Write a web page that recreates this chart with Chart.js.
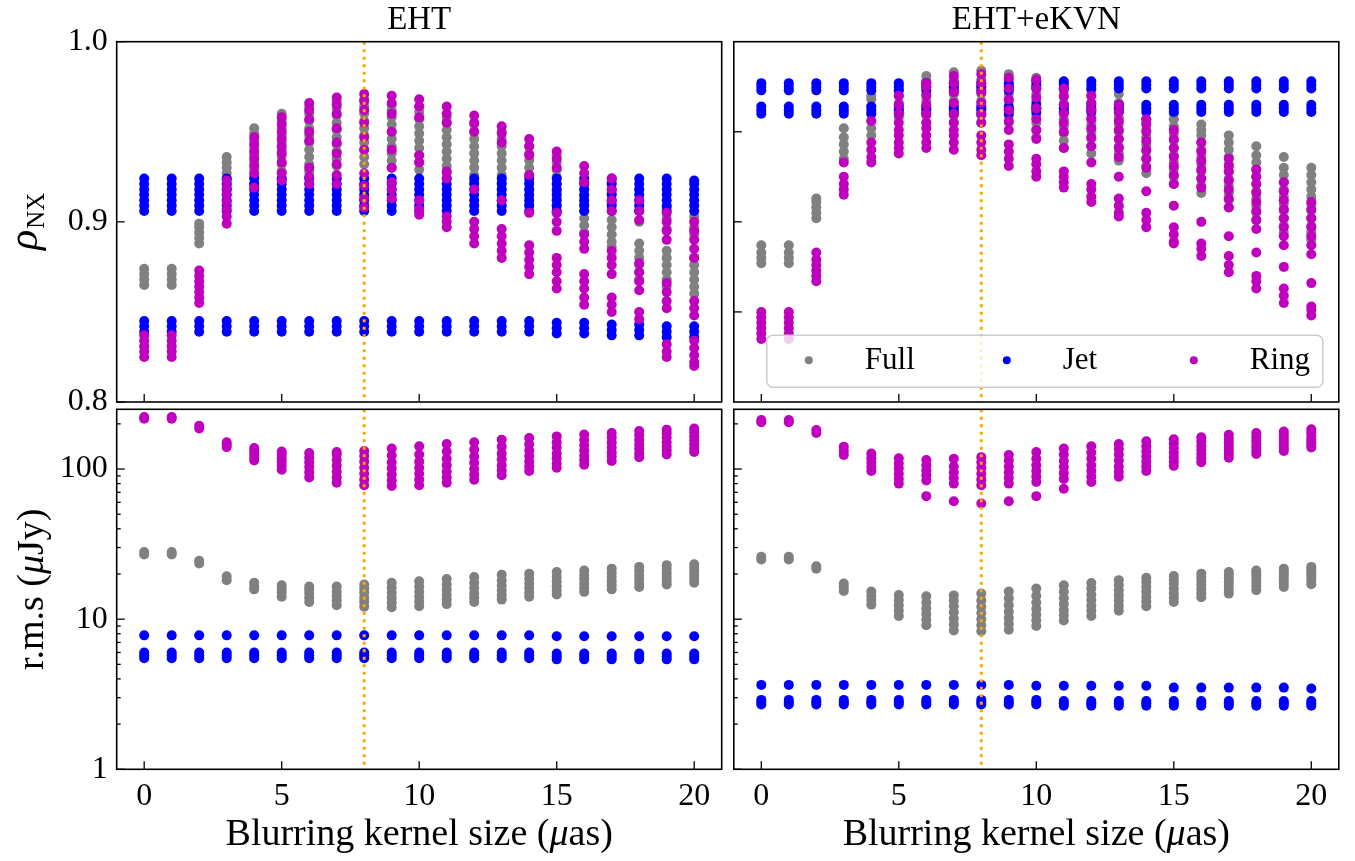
<!DOCTYPE html>
<html>
<head>
<meta charset="utf-8">
<script src="https://cdn.jsdelivr.net/npm/chart.js@4.4.1/dist/chart.umd.min.js"></script>
<style>
  body { margin: 0; background: #fff; }
  #quadro { position: relative; width: 1355px; height: 861px; }
  #quadro canvas { position: absolute; left: 0; top: 0; }
</style>
</head>
<body>
<div id="quadro">
  <canvas id="rhoEHT" width="1355" height="861"></canvas>
  <canvas id="rhoKVN" width="1355" height="861"></canvas>
  <canvas id="rmsEHT" width="1355" height="861"></canvas>
  <canvas id="rmsKVN" width="1355" height="861"></canvas>
</div>
<script>
// tamanho do kernel (uas)
const tamanhos = [0,1,2,3,4,5,6,7,8,9,10,11,12,13,14,15,16,17,18,19,20];

const ticksX = [0, 5, 10, 15, 20];
const ticksRho = [0.8, 0.9, 1.0];
const ticksRhoDir = [0.85, 0.9, 0.95];
const ticksRms = [1, 10, 100];
const ticksRmsMenores = [2,3,4,5,6,7,8,9,20,30,40,50,60,70,80,90,200];
const linhaVertical = 8;

// rho_NX - EHT
const fullEHT_rho = [
  [0.865,0.868,0.871,0.874],
  [0.865,0.868,0.871,0.874],
  [0.888,0.891,0.894,0.897,0.899],
  [0.918,0.921,0.924,0.927,0.930,0.933,0.936],
  [0.921,0.925,0.929,0.933,0.937,0.941,0.945,0.949,0.952],
  [0.924,0.928,0.932,0.936,0.940,0.944,0.948,0.952,0.956,0.960],
  [0.928,0.932,0.936,0.940,0.944,0.948,0.952,0.956,0.960,0.964],
  [0.931,0.935,0.939,0.943,0.947,0.951,0.955,0.959,0.963,0.967],
  [0.932,0.936,0.940,0.944,0.948,0.952,0.956,0.960,0.964,0.968],
  [0.930,0.934,0.938,0.942,0.946,0.950,0.954,0.958,0.962,0.965],
  [0.929,0.933,0.937,0.941,0.945,0.949,0.953,0.957,0.961,0.964],
  [0.927,0.931,0.935,0.939,0.943,0.947,0.951,0.955,0.958],
  [0.922,0.926,0.930,0.934,0.938,0.942,0.946,0.950,0.954],
  [0.918,0.922,0.926,0.930,0.934,0.938,0.942,0.946,0.950],
  [0.910,0.914,0.918,0.922,0.926,0.930,0.934,0.938,0.942],
  [0.905,0.909,0.913,0.917,0.921,0.925,0.929,0.933,0.937],
  [0.894,0.898,0.902,0.906,0.910,0.914,0.918,0.922],
  [0.886,0.889,0.893,0.897,0.901,0.910,0.916,0.922],
  [0.868,0.872,0.876,0.880,0.884,0.888,0.900,0.906,0.912,0.918],
  [0.864,0.868,0.872,0.876,0.880,0.884,0.896,0.902,0.908],
  [0.860,0.864,0.868,0.872,0.876,0.880,0.893,0.897,0.903]
];
const jetEHT_rho = [
  [0.839,0.842,0.845,0.906,0.909,0.912,0.915,0.918,0.921,0.924],
  [0.839,0.842,0.845,0.906,0.909,0.912,0.915,0.918,0.921,0.924],
  [0.839,0.842,0.845,0.906,0.909,0.912,0.915,0.918,0.921,0.924],
  [0.839,0.842,0.845,0.906,0.909,0.912,0.915,0.918,0.921,0.924],
  [0.839,0.842,0.845,0.906,0.909,0.912,0.915,0.918,0.921,0.924],
  [0.839,0.842,0.845,0.906,0.909,0.912,0.915,0.918,0.921,0.924],
  [0.839,0.842,0.845,0.906,0.909,0.912,0.915,0.918,0.921,0.924],
  [0.839,0.842,0.845,0.906,0.909,0.912,0.915,0.918,0.921,0.924],
  [0.839,0.842,0.845,0.906,0.909,0.912,0.915,0.918,0.921,0.924],
  [0.839,0.842,0.845,0.906,0.909,0.912,0.915,0.918,0.921,0.924],
  [0.839,0.842,0.845,0.906,0.909,0.912,0.915,0.918,0.921,0.924],
  [0.839,0.842,0.845,0.906,0.909,0.912,0.915,0.918,0.921,0.924],
  [0.839,0.842,0.845,0.906,0.909,0.912,0.915,0.918,0.921,0.924],
  [0.839,0.842,0.845,0.906,0.909,0.912,0.915,0.918,0.921,0.924],
  [0.839,0.842,0.845,0.906,0.909,0.912,0.915,0.918,0.921,0.924],
  [0.838,0.841,0.844,0.906,0.909,0.912,0.915,0.918,0.921,0.924],
  [0.838,0.841,0.844,0.906,0.909,0.912,0.915,0.918,0.921,0.924],
  [0.837,0.840,0.843,0.906,0.909,0.912,0.915,0.918,0.921,0.924],
  [0.837,0.840,0.843,0.906,0.909,0.912,0.915,0.918,0.921,0.924],
  [0.836,0.839,0.842,0.906,0.909,0.912,0.915,0.918,0.921,0.924],
  [0.836,0.839,0.842,0.906,0.909,0.912,0.915,0.918,0.921,0.923]
];
const ringEHT_rho = [
  [0.825,0.828,0.831,0.834,0.837],
  [0.825,0.828,0.831,0.834,0.837],
  [0.855,0.858,0.861,0.864,0.867,0.870,0.873],
  [0.899,0.903,0.907,0.911,0.915,0.919,0.923],
  [0.919,0.927,0.931,0.935,0.939,0.943,0.947],
  [0.923,0.927,0.933,0.938,0.942,0.946,0.950,0.954,0.958],
  [0.921,0.925,0.930,0.945,0.950,0.957,0.962,0.966],
  [0.921,0.926,0.932,0.938,0.944,0.952,0.960,0.965,0.969],
  [0.908,0.913,0.920,0.927,0.940,0.947,0.955,0.962,0.967,0.971],
  [0.913,0.918,0.922,0.930,0.940,0.950,0.960,0.966,0.970],
  [0.904,0.907,0.912,0.933,0.937,0.958,0.964,0.968],
  [0.897,0.900,0.903,0.924,0.928,0.955,0.960,0.964],
  [0.888,0.892,0.896,0.900,0.918,0.950,0.955,0.959],
  [0.880,0.884,0.888,0.892,0.896,0.912,0.944,0.949,0.953],
  [0.871,0.875,0.879,0.883,0.887,0.905,0.926,0.937,0.942,0.946],
  [0.863,0.867,0.872,0.876,0.880,0.895,0.900,0.905,0.930,0.935,0.939],
  [0.854,0.858,0.863,0.867,0.871,0.885,0.889,0.893,0.922,0.927,0.931],
  [0.850,0.854,0.858,0.871,0.876,0.880,0.884,0.906,0.912,0.918,0.924],
  [0.846,0.850,0.862,0.867,0.872,0.877,0.901,0.906,0.912],
  [0.825,0.828,0.832,0.852,0.856,0.861,0.866,0.890,0.895,0.900,0.905],
  [0.820,0.822,0.826,0.830,0.834,0.848,0.852,0.856,0.880,0.885,0.890,0.895,0.900]
];

// rho_NX - EHT+eKVN
const fullKVN_rho = [
  [0.877,0.880,0.883,0.887],
  [0.877,0.880,0.883,0.887],
  [0.902,0.905,0.908,0.911,0.913],
  [0.935,0.939,0.943,0.947,0.952],
  [0.948,0.952,0.956,0.960,0.964,0.968,0.970],
  [0.958,0.962,0.966,0.970,0.973,0.976],
  [0.955,0.959,0.963,0.967,0.971,0.975,0.978,0.981],
  [0.955,0.959,0.963,0.967,0.971,0.975,0.979,0.983],
  [0.955,0.959,0.963,0.967,0.971,0.975,0.979,0.984],
  [0.955,0.959,0.963,0.967,0.971,0.975,0.979,0.982],
  [0.947,0.951,0.955,0.959,0.963,0.967,0.971,0.975,0.980],
  [0.941,0.945,0.949,0.953,0.957,0.961,0.965,0.969,0.973,0.977],
  [0.938,0.942,0.946,0.950,0.954,0.958,0.962,0.966,0.970,0.973],
  [0.934,0.938,0.942,0.946,0.950,0.954,0.958,0.962,0.966,0.971],
  [0.927,0.931,0.935,0.939,0.943,0.947,0.951,0.955,0.957],
  [0.921,0.925,0.929,0.933,0.937,0.941,0.945,0.949,0.953,0.957,0.960],
  [0.916,0.920,0.924,0.928,0.932,0.936,0.940,0.944,0.948,0.951,0.954],
  [0.908,0.912,0.916,0.920,0.924,0.928,0.932,0.936,0.940,0.944,0.948],
  [0.901,0.905,0.909,0.913,0.917,0.921,0.925,0.929,0.933,0.937,0.942],
  [0.894,0.898,0.902,0.906,0.910,0.914,0.918,0.922,0.926,0.930,0.936],
  [0.890,0.894,0.898,0.902,0.906,0.910,0.914,0.918,0.922,0.926,0.930]
];
const jetKVN_rho = [
  [0.960,0.962,0.964,0.973,0.975,0.977],
  [0.960,0.962,0.964,0.973,0.975,0.977],
  [0.960,0.962,0.964,0.973,0.975,0.977],
  [0.960,0.962,0.964,0.973,0.975,0.977],
  [0.960,0.962,0.964,0.973,0.975,0.977],
  [0.960,0.962,0.964,0.973,0.975,0.977],
  [0.960,0.962,0.964,0.973,0.975,0.977],
  [0.960,0.962,0.964,0.973,0.975,0.977],
  [0.960,0.962,0.964,0.973,0.975,0.977],
  [0.960,0.962,0.964,0.973,0.975,0.977],
  [0.961,0.963,0.965,0.974,0.976,0.978],
  [0.961,0.963,0.965,0.974,0.976,0.978],
  [0.961,0.963,0.965,0.974,0.976,0.978],
  [0.961,0.963,0.965,0.974,0.976,0.978],
  [0.961,0.963,0.965,0.974,0.976,0.978],
  [0.961,0.963,0.965,0.974,0.976,0.978],
  [0.961,0.963,0.965,0.974,0.976,0.978],
  [0.961,0.963,0.965,0.974,0.976,0.978],
  [0.961,0.963,0.965,0.974,0.976,0.978],
  [0.961,0.963,0.965,0.974,0.976,0.978],
  [0.961,0.963,0.965,0.974,0.976,0.978]
];
const ringKVN_rho = [
  [0.835,0.838,0.841,0.844,0.847,0.850],
  [0.835,0.838,0.841,0.844,0.847,0.850],
  [0.867,0.870,0.873,0.876,0.879,0.883],
  [0.915,0.918,0.921,0.925,0.933],
  [0.933,0.936,0.940,0.944,0.956],
  [0.938,0.941,0.944,0.948,0.951,0.955,0.960,0.965,0.970],
  [0.941,0.944,0.948,0.952,0.955,0.960,0.965,0.970,0.975,0.977],
  [0.940,0.944,0.948,0.951,0.955,0.960,0.966,0.972,0.977,0.981],
  [0.937,0.940,0.944,0.948,0.955,0.960,0.966,0.972,0.977,0.982],
  [0.931,0.935,0.939,0.943,0.951,0.956,0.962,0.968,0.974,0.980],
  [0.925,0.928,0.932,0.935,0.946,0.951,0.957,0.963,0.969,0.974,0.979],
  [0.919,0.922,0.925,0.928,0.941,0.950,0.955,0.960,0.965,0.970,0.974],
  [0.911,0.914,0.918,0.921,0.933,0.942,0.947,0.952,0.957,0.962,0.966,0.970],
  [0.903,0.905,0.909,0.913,0.925,0.936,0.941,0.946,0.951,0.956,0.961,0.965],
  [0.897,0.901,0.905,0.917,0.930,0.935,0.940,0.945,0.950,0.954,0.957],
  [0.888,0.889,0.893,0.897,0.909,0.921,0.926,0.931,0.936,0.941,0.946,0.951],
  [0.881,0.885,0.888,0.900,0.919,0.924,0.929,0.934,0.939,0.944],
  [0.872,0.876,0.881,0.892,0.908,0.913,0.918,0.923,0.928,0.931,0.935],
  [0.863,0.867,0.870,0.883,0.896,0.901,0.906,0.911,0.916,0.921,0.925,0.929],
  [0.855,0.859,0.863,0.875,0.887,0.892,0.897,0.902,0.907,0.912,0.917,0.922],
  [0.848,0.851,0.853,0.866,0.882,0.887,0.892,0.897,0.902,0.907,0.911]
];

// r.m.s (uJy) - EHT
const fullEHT_rms = [
  [27,28],
  [27,28],
  [23.5,24.5],
  [18.2,19.3],
  [15.8,16.5,17.5],
  [14.1,15.0,15.9,16.8],
  [13.0,13.9,14.9,15.7,16.5],
  [12.4,13.3,14.2,15.2,16.5],
  [12.1,13.0,13.9,15.0,16.0,17.0],
  [12.0,12.9,13.9,15.0,16.2,17.5],
  [12.2,13.1,14.1,15.2,16.5,17.9],
  [12.6,13.5,14.5,15.7,17.0,18.5],
  [13.0,13.9,14.9,16.1,17.5,19.1],
  [13.5,14.4,15.5,16.7,18.1,19.8],
  [14.1,15.0,16.1,17.3,18.6,20.1],
  [14.6,15.5,16.6,17.8,19.1,20.6],
  [15.2,16.2,17.3,18.5,19.7,21.1],
  [15.8,16.8,17.9,19.1,20.4,21.7],
  [16.4,17.4,18.5,19.7,21.0,22.3],
  [17.0,18.0,19.1,20.3,21.6,22.9],
  [17.5,18.5,19.6,20.8,22.0,23.2]
];
const jetEHT_rms = [
  [5.5,5.75,6.0,7.8],[5.5,5.75,6.0,7.8],[5.5,5.75,6.0,7.8],[5.5,5.75,6.0,7.8],
  [5.5,5.75,6.0,7.8],[5.5,5.75,6.0,7.8],[5.5,5.75,6.0,7.8],[5.5,5.75,6.0,7.8],
  [5.5,5.75,6.0,7.8],[5.5,5.75,6.0,7.8],[5.5,5.75,6.0,7.8],[5.5,5.75,6.0,7.8],
  [5.5,5.75,6.0,7.8],[5.5,5.75,6.0,7.8],[5.5,5.75,6.0,7.8],[5.4,5.65,5.9,7.7],
  [5.4,5.65,5.9,7.7],[5.4,5.65,5.9,7.7],[5.4,5.65,5.9,7.7],[5.4,5.65,5.9,7.7],
  [5.4,5.65,5.9,7.7]
];
const ringEHT_rms = [
  [216,222],
  [216,222],
  [186,194],
  [140,145,151],
  [114,120,127,133,138],
  [99,105,112,118,125,131],
  [88,95,103,111,119,128],
  [81,88,96,105,115,125,130],
  [78,85,93,102,112,122,132],
  [77,84,92,101,111,123,137],
  [78,85,93,102,112,125,142],
  [81,88,96,106,117,131,147],
  [85,92,100,110,121,135,151],
  [91,98,106,116,127,141,157],
  [97,104,112,122,133,146,161],
  [102,109,118,127,139,151,165],
  [107,115,123,133,144,156,170],
  [113,121,129,139,150,162,174],
  [120,127,136,145,156,168,179],
  [125,133,141,151,162,173,183],
  [130,137,146,155,165,176,186]
];

// r.m.s (uJy) - EHT+eKVN
const fullKVN_rms = [
  [25,26],
  [25,26],
  [21.7,22.5],
  [15.4,16.3,17.3],
  [12.5,13.4,14.3,15.3],
  [10.5,11.4,12.4,13.4,14.5],
  [9.1,9.9,10.8,11.8,12.9,14.2],
  [8.4,9.2,10.1,11.1,12.2,13.3,14.4],
  [8.3,9.1,10.0,11.0,12.1,13.3,14.8],
  [8.5,9.3,10.2,11.2,12.4,13.8,15.3],
  [9.0,9.8,10.7,11.7,12.9,14.3,16.0],
  [9.8,10.6,11.5,12.6,13.8,15.2,16.8],
  [10.5,11.4,12.3,13.4,14.6,16.0,17.4],
  [11.4,12.3,13.3,14.4,15.6,16.9,18.2],
  [12.2,13.1,14.1,15.2,16.4,17.7,18.9],
  [13.0,13.9,14.9,16.0,17.2,18.3,19.4],
  [14.0,14.9,15.9,16.9,18.0,19.1,20.1],
  [14.8,15.7,16.7,17.7,18.7,19.7,20.6],
  [15.6,16.5,17.5,18.5,19.5,20.3,21.1],
  [16.4,17.3,18.3,19.2,20.1,20.9,21.7],
  [17.1,18.0,19.0,19.9,20.8,21.6,22.3]
];
const jetKVN_rms = [
  [2.7,2.8,2.9,3.65],[2.7,2.8,2.9,3.65],[2.7,2.8,2.9,3.65],[2.7,2.8,2.9,3.65],
  [2.7,2.8,2.9,3.65],[2.7,2.8,2.9,3.65],[2.7,2.8,2.9,3.65],[2.7,2.8,2.9,3.65],
  [2.7,2.8,2.9,3.65],[2.7,2.8,2.9,3.65],[2.7,2.8,2.9,3.6],[2.65,2.75,2.85,3.6],
  [2.65,2.75,2.85,3.6],[2.65,2.75,2.85,3.6],[2.65,2.75,2.85,3.6],[2.65,2.75,2.85,3.5],
  [2.65,2.75,2.85,3.5],[2.65,2.75,2.85,3.5],[2.65,2.75,2.85,3.5],[2.65,2.75,2.85,3.5],
  [2.65,2.75,2.85,3.45]
];
const ringKVN_rms = [
  [205,212],
  [205,212],
  [174,182],
  [124,132,141],
  [97,103,110,118,127],
  [80,86,93,101,109,118],
  [66,84,91,98,106,115],
  [61,80,87,95,104,117],
  [59,78,85,93,102,111,120],
  [61,80,87,95,104,114,124],
  [66,82,89,97,106,117,130],
  [74,86,94,103,113,125,137],
  [82,89,97,106,117,129,142],
  [89,96,104,114,125,136,147],
  [97,104,112,121,131,142,153],
  [105,112,120,129,138,148,158],
  [111,118,126,134,143,153,163],
  [119,126,133,141,150,159,169],
  [126,132,139,147,155,164,174],
  [132,138,145,152,160,169,178],
  [139,145,151,158,166,175,184]
];

const fonte = '"Liberation Serif", "Times New Roman", serif';
const cores = { Full: '#808080', Jet: '#0000ff', Ring: '#bf00bf' };

function pontos(lista) {
  const saida = [];
  lista.forEach((valores, i) => {
    valores.forEach(v => saida.push({ x: tamanhos[i], y: v }));
  });
  return saida;
}

function serie(nome, lista, ordem) {
  return {
    label: nome,
    data: pontos(lista),
    pointBackgroundColor: cores[nome],
    pointBorderColor: cores[nome],
    pointBorderWidth: 0,
    pointRadius: 5,
    pointHoverRadius: 5,
    showLine: false,
    order: ordem
  };
}

// texto com partes em italico, centrado em x
function textoMisto(ctx, partes, x, y, tamanho) {
  let total = 0;
  partes.forEach(p => {
    ctx.font = (p[1] ? 'italic ' : '') + tamanho + 'px ' + fonte;
    total += ctx.measureText(p[0]).width;
  });
  let pos = x - total / 2;
  ctx.textAlign = 'left';
  partes.forEach(p => {
    ctx.font = (p[1] ? 'italic ' : '') + tamanho + 'px ' + fonte;
    ctx.fillText(p[0], pos, y);
    pos += ctx.measureText(p[0]).width;
  });
}

function linha(ctx, x1, y1, x2, y2) {
  ctx.beginPath();
  ctx.moveTo(x1, y1);
  ctx.lineTo(x2, y2);
  ctx.stroke();
}

function criaGrafico(id, cfg) {
  const decoracao = {
    id: 'decoracao',
    afterDatasetsDraw(chart) {
      const ctx = chart.ctx, a = chart.chartArea;
      const px = chart.scales.x.getPixelForValue(linhaVertical);
      ctx.save();
      ctx.strokeStyle = '#ffa500';
      ctx.lineWidth = 3;
      ctx.setLineDash([3, 4.5]);
      linha(ctx, px, a.top, px, a.bottom);
      ctx.restore();
    },
    afterDraw(chart) {
      const ctx = chart.ctx, a = chart.chartArea;
      const xs = chart.scales.x, ys = chart.scales.y;
      ctx.save();
      ctx.strokeStyle = '#000';
      ctx.fillStyle = '#000';
      ctx.lineWidth = 1.3;
      ticksX.forEach(v => {
        const p = xs.getPixelForValue(v);
        linha(ctx, p, a.bottom, p, a.bottom - 8);
      });
      cfg.yMaiores.forEach(v => {
        const p = ys.getPixelForValue(v);
        linha(ctx, a.left, p, a.left + 8, p);
      });
      (cfg.yMenores || []).forEach(v => {
        const p = ys.getPixelForValue(v);
        linha(ctx, a.left, p, a.left + 4, p);
      });
      ctx.lineWidth = 1.6;
      ctx.strokeRect(a.left, a.top, a.right - a.left, a.bottom - a.top);

      const cx = (a.left + a.right) / 2;
      if (cfg.titulo) {
        ctx.textBaseline = 'alphabetic';
        textoMisto(ctx, [[cfg.titulo, false]], cx, a.top - 12.5, 33);
      }
      if (cfg.rotuloX) {
        ctx.textBaseline = 'alphabetic';
        textoMisto(ctx, [['Blurring kernel size (', false], ['μ', true], ['as)', false]], cx, a.bottom + 76, 38);
      }
      if (cfg.rotuloY) {
        const cy = (a.top + a.bottom) / 2;
        ctx.save();
        ctx.translate(a.left - 74, cy);
        ctx.rotate(-Math.PI / 2);
        ctx.textBaseline = 'alphabetic';
        if (cfg.rotuloY === 'rho') {
          ctx.font = 'italic 42px ' + fonte;
          const w1 = ctx.measureText('ρ').width;
          ctx.font = '25px ' + fonte;
          const w2 = ctx.measureText('NX').width;
          let pos = -(w1 + w2) / 2;
          ctx.font = 'italic 42px ' + fonte;
          ctx.textAlign = 'left';
          ctx.fillText('ρ', pos, -6);
          ctx.font = '25px ' + fonte;
          ctx.fillText('NX', pos + w1 + 1, 1);
        } else {
          textoMisto(ctx, [['r.m.s (', false], ['μ', true], ['Jy)', false]], 0, 0, 38);
        }
        ctx.restore();
      }
      if (cfg.legenda) {
        const bx = a.left + 33, by = a.top + 293.5, bw = 556, bh = 52;
        ctx.save();
        ctx.beginPath();
        ctx.roundRect(bx, by, bw, bh, 6);
        ctx.fillStyle = 'rgba(255,255,255,0.8)';
        ctx.fill();
        ctx.strokeStyle = '#cccccc';
        ctx.lineWidth = 1.5;
        ctx.stroke();
        const itens = [['Full', 42], ['Jet', 240], ['Ring', 427]];
        ctx.font = '31px ' + fonte;
        ctx.textAlign = 'left';
        ctx.textBaseline = 'alphabetic';
        itens.forEach(([nome, dx]) => {
          ctx.fillStyle = cores[nome];
          ctx.beginPath();
          ctx.arc(bx + dx, by + 25, 4, 0, Math.PI * 2);
          ctx.fill();
          ctx.fillStyle = '#000';
          ctx.fillText(nome, bx + dx + 56, by + 34);
        });
        ctx.restore();
      }
      ctx.restore();
    }
  };

  // espaco reservado para os rotulos dos ticks
  const larguraY = cfg.rotulosY ? 100 : 0;
  const alturaX = cfg.rotuloX ? 60 : 0;
  const fixaTamanho = (escala) => {
    if (escala.axis === 'x') escala.height = alturaX; else escala.width = larguraY;
    escala.paddingLeft = 0; escala.paddingRight = 0;
    escala.paddingTop = 0; escala.paddingBottom = 0;
  };
  const padding = {
    left: cfg.area.left - larguraY,
    top: cfg.area.top,
    right: cfg.area.right,
    bottom: cfg.area.bottom - alturaX
  };

  return new Chart(document.getElementById(id), {
    type: 'scatter',
    data: { datasets: cfg.series },
    options: {
      responsive: false,
      animation: false,
      events: [],
      layout: { padding: padding },
      plugins: { legend: { display: false }, tooltip: { enabled: false }, title: { display: false } },
      scales: {
        x: {
          type: 'linear', min: -1, max: 21,
          grid: { display: false, drawTicks: false }, border: { display: false },
          afterBuildTicks: (escala) => { escala.ticks = ticksX.map(v => ({ value: v })); },
          afterFit: fixaTamanho,
          ticks: {
            display: cfg.rotuloX, autoSkip: false, maxRotation: 0, padding: 8,
            color: '#000', font: { family: fonte, size: 32 },
            callback: (v) => String(v)
          }
        },
        y: {
          type: cfg.tipoY, min: cfg.minY, max: cfg.maxY,
          grid: { display: false, drawTicks: false }, border: { display: false },
          afterBuildTicks: (escala) => {
            escala.ticks = cfg.yMaiores.concat(cfg.yMenores || []).map(v => ({ value: v }));
          },
          afterFit: fixaTamanho,
          ticks: {
            display: cfg.rotulosY, autoSkip: false, padding: 9,
            color: '#000', font: { family: fonte, size: 32 },
            callback: cfg.formatoY
          }
        }
      }
    },
    plugins: [decoracao]
  });
}

const formatoRho = (v) => ticksRho.includes(v) ? v.toFixed(1) : '';
const formatoRms = (v) => ticksRms.includes(v) ? String(v) : '';

const graficoRhoEHT = criaGrafico('rhoEHT', {
  area: { left: 116.7, top: 41.7, right: 633.3, bottom: 459 },
  tipoY: 'linear', minY: 0.8, maxY: 1.0,
  yMaiores: ticksRho, rotulosY: true, formatoY: formatoRho,
  rotuloX: false, titulo: 'EHT', rotuloY: 'rho',
  series: [serie('Full', fullEHT_rho, 3), serie('Jet', jetEHT_rho, 2), serie('Ring', ringEHT_rho, 1)]
});

const graficoRhoKVN = criaGrafico('rhoKVN', {
  area: { left: 733.8, top: 41.7, right: 16.2, bottom: 459 },
  tipoY: 'linear', minY: 0.8, maxY: 1.0,
  yMaiores: ticksRhoDir, rotulosY: false, formatoY: formatoRho,
  rotuloX: false, titulo: 'EHT+eKVN', legenda: true,
  series: [serie('Full', fullKVN_rho, 3), serie('Jet', jetKVN_rho, 2), serie('Ring', ringKVN_rho, 1)]
});

const graficoRmsEHT = criaGrafico('rmsEHT', {
  area: { left: 116.7, top: 409.3, right: 633.3, bottom: 91.7 },
  tipoY: 'logarithmic', minY: 1, maxY: 250,
  yMaiores: ticksRms, yMenores: ticksRmsMenores, rotulosY: true, formatoY: formatoRms,
  rotuloX: true, rotuloY: 'rms',
  series: [serie('Full', fullEHT_rms, 3), serie('Jet', jetEHT_rms, 2), serie('Ring', ringEHT_rms, 1)]
});

const graficoRmsKVN = criaGrafico('rmsKVN', {
  area: { left: 733.8, top: 409.3, right: 16.2, bottom: 91.7 },
  tipoY: 'logarithmic', minY: 1, maxY: 250,
  yMaiores: ticksRms, yMenores: ticksRmsMenores, rotulosY: false, formatoY: formatoRms,
  rotuloX: true,
  series: [serie('Full', fullKVN_rms, 3), serie('Jet', jetKVN_rms, 2), serie('Ring', ringKVN_rms, 1)]
});
</script>
</body>
</html>
